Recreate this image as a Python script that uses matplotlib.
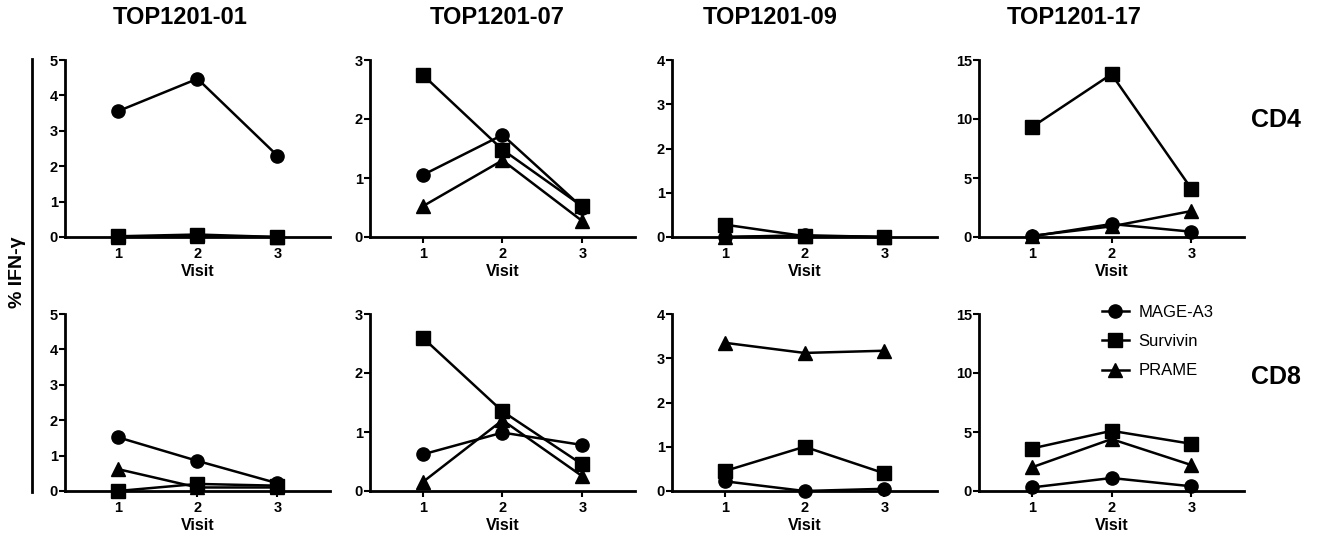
import matplotlib
matplotlib.use("Agg")
import matplotlib.pyplot as plt
from matplotlib.lines import Line2D

plt.rcParams.update({
    "font.family": ["Liberation Sans", "DejaVu Sans"],
    "axes.linewidth": 2.0,
    "xtick.major.width": 1.5,
    "ytick.major.width": 1.5,
    "xtick.major.size": 4,
    "ytick.major.size": 4,
})

patients = ["TOP1201-01", "TOP1201-07", "TOP1201-09", "TOP1201-17"]
visits = [1, 2, 3]
antigens = ["MAGE-A3", "Survivin", "PRAME"]
markers = ["o", "s", "^"]

# CD4 responses (% IFN-gamma), per patient: MAGE-A3, Survivin, PRAME
cd4_mage = [[3.55, 4.47, 2.3], [1.05, 1.73, 0.5], [0.0, 0.04, 0.0], [0.05, 1.1, 0.45]]
cd4_surv = [[0.02, 0.07, 0.0], [2.75, 1.48, 0.52], [0.28, 0.02, 0.0], [9.3, 13.8, 4.1]]
cd4_prame = [[0.0, 0.03, 0.0], [0.52, 1.3, 0.27], [0.0, 0.02, 0.0], [0.1, 0.9, 2.2]]

# CD8 responses
cd8_mage = [[1.52, 0.85, 0.22], [0.62, 0.99, 0.78], [0.22, 0.0, 0.05], [0.3, 1.1, 0.4]]
cd8_surv = [[0.0, 0.2, 0.15], [2.6, 1.35, 0.45], [0.45, 1.0, 0.4], [3.6, 5.1, 4.0]]
cd8_prame = [[0.62, 0.1, 0.1], [0.15, 1.2, 0.25], [3.35, 3.12, 3.17], [2.0, 4.4, 2.2]]

ymax = [5, 3, 4, 15]
yticks = [[0, 1, 2, 3, 4, 5], [0, 1, 2, 3], [0, 1, 2, 3, 4], [0, 5, 10, 15]]

W, H = 1321, 540
fig = plt.figure(figsize=(W / 100, H / 100), dpi=100)

lefts = [65, 370, 672, 979]
ax_w = 265
rows = [(60, 237), (314, 491)]
title_x = [180, 497, 770, 1074]

data = [(cd4_mage, cd4_surv, cd4_prame), (cd8_mage, cd8_surv, cd8_prame)]

for r, (top, bot) in enumerate(rows):
    for c in range(4):
        ax = fig.add_axes([lefts[c] / W, 1 - bot / H, ax_w / W, (bot - top) / H])
        for series, m in zip(data[r], markers):
            ax.plot(visits, series[c], color="black", lw=1.8, marker=m,
                    markersize=9.5, clip_on=False, zorder=3)
        ax.set_xlim(0.34, 3.66)
        ax.set_ylim(0, ymax[c])
        ax.set_yticks(yticks[c])
        ax.set_xticks(visits)
        ax.spines["top"].set_visible(False)
        ax.spines["right"].set_visible(False)
        ax.tick_params(axis="y", labelsize=10.5, pad=1)
        ax.tick_params(axis="x", labelsize=10.5, pad=3)
        for lab in ax.get_xticklabels() + ax.get_yticklabels():
            lab.set_fontweight("bold")
        ax.set_xlabel("Visit", fontsize=11.5, fontweight="bold", labelpad=2)
        if r == 0:
            fig.text(title_x[c] / W, 1 - 18 / H, patients[c], ha="center",
                     va="center", fontsize=17, fontweight="bold")
        if r == 1 and c == 3:
            handles = [Line2D([0], [0], color="black", lw=1.8, marker=m,
                              markersize=9.5) for m in markers]
            fig.legend(handles, antigens, loc="upper left",
                       bbox_to_anchor=(1087 / W, 1 - 290 / H), frameon=False,
                       fontsize=12, handlelength=1.6, labelspacing=0.85,
                       handletextpad=0.6)

fig.text(1276 / W, 1 - 120 / H, "CD4", ha="center", va="center",
         fontsize=18, fontweight="bold")
fig.text(1276 / W, 1 - 377 / H, "CD8", ha="center", va="center",
         fontsize=18, fontweight="bold")

fig.add_artist(Line2D([32 / W, 32 / W], [1 - 59 / H, 1 - 492 / H],
                      color="black", lw=2, transform=fig.transFigure))
fig.text(17 / W, 1 - 272 / H, "% IFN-γ", rotation=90, ha="center",
         va="center", fontsize=14, fontweight="bold",
         family=["Liberation Sans", "DejaVu Sans"])

fig.savefig("out.png", dpi=100, facecolor="white")
